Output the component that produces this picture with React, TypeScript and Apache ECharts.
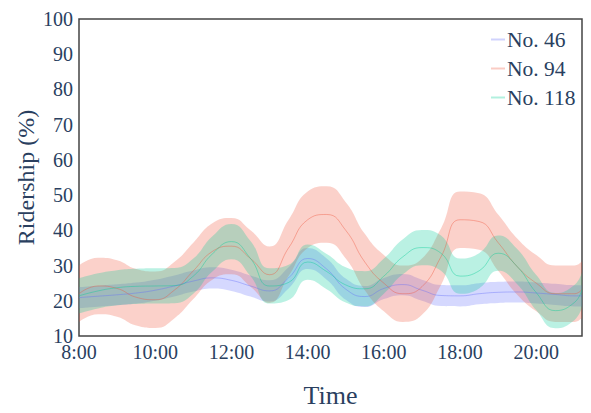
import React, { useEffect, useRef } from "react";
import * as echarts from "echarts";

const hours = [8, 8.5, 9, 9.5, 10, 10.5, 11, 11.5, 12, 12.5, 13, 13.5, 14, 14.5, 15, 15.5, 16, 16.5, 17, 17.5, 18, 18.5, 19, 19.5, 20, 20.5, 21, 21.2];
const no46 = [20.9, 21.3, 21.7, 22.2, 23.0, 24.2, 25.6, 26.5, 25.8, 24.2, 22.8, 26.5, 32.0, 29.0, 23.3, 21.2, 23.5, 24.6, 23.0, 21.5, 21.4, 22.0, 22.4, 22.5, 22.2, 21.8, 21.4, 21.4];
const no94 = [22.0, 24.2, 23.5, 21.0, 20.3, 23.0, 28.5, 34.0, 35.5, 32.0, 27.4, 35.0, 43.0, 44.5, 40.0, 31.0, 25.0, 22.0, 24.0, 32.5, 43.0, 42.5, 36.5, 29.7, 25.0, 22.0, 22.0, 23.2];
const no118 = [21.4, 22.8, 23.7, 24.1, 24.2, 24.3, 27.0, 33.3, 36.8, 32.0, 24.2, 25.2, 31.0, 28.3, 24.5, 23.4, 27.0, 32.5, 35.1, 33.5, 27.0, 28.5, 33.5, 29.7, 22.3, 17.2, 19.5, 23.2];
const spread46 = 3;
const spread94 = 8;
const spread118 = 5;
const seriesNames = ["No. 46", "No. 94", "No. 118"];
const xTicks = ["8:00", "10:00", "12:00", "14:00", "16:00", "18:00", "20:00"];

const FONT = "Liberation Serif";
const TXT = "#2a3f5f";

export default function App() {
  const ref = useRef<HTMLDivElement>(null);
  useEffect(() => {
    if (!ref.current) return;
    const chart = echarts.init(ref.current, undefined, { renderer: "svg" });
    const defs = [
      { name: seriesNames[0], vals: no46, spread: spread46, rgb: "99,110,250" },
      { name: seriesNames[1], vals: no94, spread: spread94, rgb: "239,85,59" },
      { name: seriesNames[2], vals: no118, spread: spread118, rgb: "0,204,150" },
    ];
    const series: any[] = [];
    defs.forEach((d, k) => {
      const stack = "band" + k;
      // data as [value, hour] so the first (stacked) dimension is y
      series.push({
        type: "line",
        stack,
        smooth: true,
        symbol: "none",
        silent: true,
        encode: { x: 1, y: 0 },
        lineStyle: { opacity: 0 },
        data: hours.map((h, i) => [d.vals[i] - d.spread, h]),
        z: 2 + k,
      });
      series.push({
        type: "line",
        stack,
        smooth: true,
        symbol: "none",
        silent: true,
        encode: { x: 1, y: 0 },
        lineStyle: { opacity: 0 },
        areaStyle: { color: `rgba(${d.rgb},0.27)`, opacity: 1 },
        data: hours.map((h) => [2 * d.spread, h]),
        z: 2 + k,
      });
      series.push({
        type: "line",
        name: d.name,
        smooth: true,
        symbol: "none",
        itemStyle: { color: `rgba(${d.rgb},0.4)` },
        lineStyle: { color: `rgba(${d.rgb},0.4)`, width: 1 },
        data: hours.map((h, i) => [h, d.vals[i]]),
        z: 5 + k,
      });
    });
    chart.setOption({
      animation: false,
      backgroundColor: "#ffffff",
      textStyle: { fontFamily: FONT },
      grid: {
        left: 79,
        right: 9,
        top: 19,
        bottom: 74,
        show: true,
        borderColor: "#444444",
        borderWidth: 1.5,
        backgroundColor: "transparent",
      },
      legend: {
        orient: "vertical",
        left: 486,
        top: 23,
        itemWidth: 14,
        itemHeight: 2,
        itemGap: 6,
        icon: "rect",
        textStyle: { fontFamily: FONT, fontSize: 21.5, lineHeight: 23, color: TXT, padding: [0, 0, 0, -3] },
        data: defs.map((d) => ({ name: d.name, itemStyle: { color: `rgba(${d.rgb},0.3)` } })),
      },
      xAxis: {
        type: "value",
        min: 8,
        max: 21.2,
        interval: 2,
        name: "Time",
        nameLocation: "middle",
        nameGap: 46,
        nameTextStyle: { fontFamily: FONT, fontSize: 26, color: TXT },
        axisLine: { show: false },
        axisTick: { show: false },
        splitLine: { show: false },
        axisLabel: {
          fontFamily: FONT,
          fontSize: 20,
          color: TXT,
          margin: 6,
          showMaxLabel: false,
          formatter: (v: number) => {
            const idx = Math.round((v - 8) / 2);
            return Math.abs(v - 8 - idx * 2) < 1e-6 && xTicks[idx] ? xTicks[idx] : "";
          },
        },
      },
      yAxis: {
        type: "value",
        min: 10,
        max: 100,
        interval: 10,
        name: "Ridership (%)",
        nameLocation: "middle",
        nameGap: 41,
        nameMoveOverlap: false,
        nameTextStyle: { fontFamily: FONT, fontSize: 24, color: TXT },
        axisLine: { show: false },
        axisTick: { show: false },
        splitLine: { show: false },
        axisLabel: { fontFamily: FONT, fontSize: 20, color: TXT, margin: 6 },
      },
      series,
    });
    return () => chart.dispose();
  }, []);
  return <div ref={ref} style={{ position: "fixed", left: 0, top: 0, width: 591, height: 413 }} />;
}
